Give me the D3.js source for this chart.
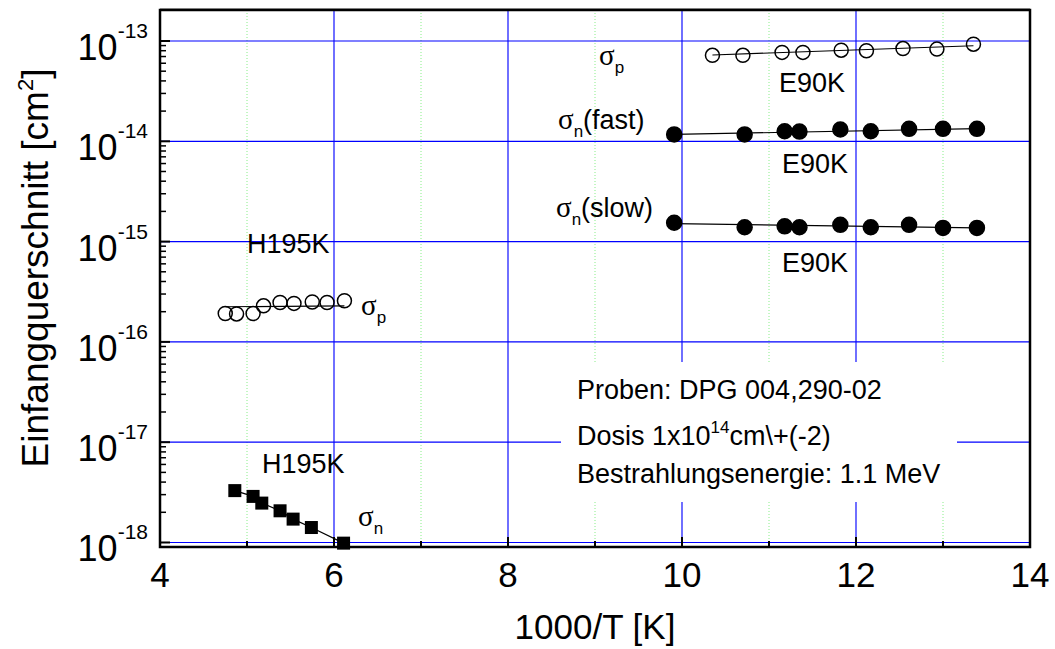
<!DOCTYPE html>
<html>
<head>
<meta charset="utf-8">
<script src="https://cdn.jsdelivr.net/npm/d3@7"></script>
<style>
  body { margin: 0; background: white; }
  text { font-family: "Liberation Sans", Arial, sans-serif; fill: black; }
  .sym { font-family: "Liberation Serif", "DejaVu Serif", serif; }
</style>
</head>
<body>
<svg id="chart" width="1055" height="649"></svg>
<script>
var svg = d3.select("#chart");
var plot = { left: 160, right: 1030, top: 10, bottom: 547 };

// E90K (open circles, sigma_p)
var e90_p_x = [10.35, 10.70, 11.15, 11.39, 11.83, 12.12, 12.54, 12.93, 13.35];
var e90_p_y = [7.2e-14, 7.2e-14, 7.7e-14, 7.7e-14, 8.1e-14, 8.0e-14, 8.4e-14, 8.3e-14, 9.3e-14];
// E90K filled circles, sigma_n fast / slow (same x)
var e90_n_x = [9.91, 10.72, 11.18, 11.35, 11.82, 12.17, 12.61, 13.00, 13.39];
var e90_fast_y = [1.17e-14, 1.17e-14, 1.26e-14, 1.25e-14, 1.31e-14, 1.26e-14, 1.33e-14, 1.33e-14, 1.33e-14];
var e90_slow_y = [1.54e-15, 1.39e-15, 1.42e-15, 1.39e-15, 1.47e-15, 1.39e-15, 1.47e-15, 1.37e-15, 1.37e-15];
// H195K open circles sigma_p
var h195_p_x = [4.75, 4.88, 5.07, 5.19, 5.38, 5.54, 5.75, 5.92, 6.12];
var h195_p_y = [1.92e-16, 1.90e-16, 1.92e-16, 2.29e-16, 2.47e-16, 2.42e-16, 2.50e-16, 2.47e-16, 2.57e-16];
// H195K filled squares sigma_n
var h195_n_x = [4.86, 5.07, 5.17, 5.38, 5.53, 5.74, 6.11];
var h195_n_y = [3.29e-18, 2.88e-18, 2.47e-18, 2.07e-18, 1.71e-18, 1.41e-18, 0.985e-18];

// fit lines (end points)
var fit_e90_p = [[10.35, 7.25e-14], [13.35, 8.97e-14]];
var fit_e90_fast = [[9.91, 1.17e-14], [13.39, 1.34e-14]];
var fit_e90_slow = [[9.91, 1.51e-15], [13.39, 1.37e-15]];
var fit_h195_p = [[4.75, 2.24e-16], [6.12, 2.29e-16]];

var x_ticks = [4, 6, 8, 10, 12, 14];
var x_minor = [5, 7, 9, 11, 13];
var y_exps = [-13, -14, -15, -16, -17, -18];

var x = d3.scaleLinear().domain([4, 14]).range([plot.left, plot.right]);
var y = d3.scaleLog().domain([Math.pow(10, -18.045), Math.pow(10, -12.691)]).range([plot.bottom, plot.top]);

// grid
svg.selectAll(".vgrid").data(x_ticks.filter(function(d) { return d > 4 && d < 14; }))
  .enter().append("line")
  .attr("x1", function(d) { return x(d); }).attr("x2", function(d) { return x(d); })
  .attr("y1", plot.top).attr("y2", plot.bottom)
  .style("stroke", "#1010ff").style("stroke-width", 1.2);
svg.selectAll(".vminor").data(x_minor)
  .enter().append("line")
  .attr("x1", function(d) { return x(d); }).attr("x2", function(d) { return x(d); })
  .attr("y1", plot.top).attr("y2", plot.bottom)
  .style("stroke", "#88ee88").style("stroke-width", 1).style("stroke-dasharray", "1,2");
svg.selectAll(".hgrid").data(y_exps)
  .enter().append("line")
  .attr("x1", plot.left).attr("x2", plot.right)
  .attr("y1", function(d) { return y(Math.pow(10, d)); })
  .attr("y2", function(d) { return y(Math.pow(10, d)); })
  .style("stroke", "#0000ff").style("stroke-width", 1.2);

// white box behind annotation
svg.append("rect").attr("x", 561).attr("y", 362).attr("width", 396).attr("height", 140).style("fill", "white");

// frame
svg.append("line").attr("x1", plot.left).attr("x2", plot.right).attr("y1", plot.top - 1.5).attr("y2", plot.top - 1.5)
  .style("stroke", "#aaa").style("stroke-width", 1);
svg.append("rect").attr("x", plot.left).attr("y", plot.top).attr("width", plot.right - plot.left).attr("height", plot.bottom - plot.top)
  .style("fill", "none").style("stroke", "black").style("stroke-width", 2.5);

// y ticks (inward)
var yMinor = [];
y_exps.forEach(function(e) {
  for (var k = 2; k <= 9; k++) {
    var v = k * Math.pow(10, e);
    if (y(v) > plot.top + 2) yMinor.push(v);
  }
});
svg.selectAll(".ymin").data(yMinor).enter().append("line")
  .attr("x1", plot.left).attr("x2", plot.left + 6)
  .attr("y1", function(d) { return y(d); }).attr("y2", function(d) { return y(d); })
  .style("stroke", "black").style("stroke-width", 1.5);
svg.selectAll(".ymaj").data(y_exps).enter().append("line")
  .attr("x1", plot.left).attr("x2", plot.left + 10)
  .attr("y1", function(d) { return y(Math.pow(10, d)); }).attr("y2", function(d) { return y(Math.pow(10, d)); })
  .style("stroke", "black").style("stroke-width", 2);

// x ticks (inward)
svg.selectAll(".xmaj").data(x_ticks).enter().append("line")
  .attr("x1", function(d) { return x(d); }).attr("x2", function(d) { return x(d); })
  .attr("y1", plot.bottom).attr("y2", plot.bottom - 10)
  .style("stroke", "black").style("stroke-width", 2);
svg.selectAll(".xmin").data(x_minor).enter().append("line")
  .attr("x1", function(d) { return x(d); }).attr("x2", function(d) { return x(d); })
  .attr("y1", plot.bottom).attr("y2", plot.bottom - 6)
  .style("stroke", "black").style("stroke-width", 2);

// tick labels
svg.selectAll(".xlab").data(x_ticks).enter().append("text")
  .attr("x", function(d) { return x(d); }).attr("y", 587)
  .attr("text-anchor", "middle").style("font-size", "35px")
  .text(function(d) { return d; });
var ylab = svg.selectAll(".ylab").data(y_exps).enter().append("text")
  .attr("x", 148).attr("y", function(d) { return y(Math.pow(10, d)) + 19; })
  .attr("text-anchor", "end");
ylab.append("tspan").style("font-size", "36px").text("10");
ylab.append("tspan").attr("dy", -22).style("font-size", "21px").text(function(d) { return d; });

// axis titles
svg.append("text").attr("x", (plot.left + plot.right) / 2).attr("y", 639)
  .attr("text-anchor", "middle").style("font-size", "35px").text("1000/T [K]");
var yt = svg.append("text").attr("transform", "translate(48,268) rotate(-90)")
  .attr("text-anchor", "middle").style("font-size", "37px");
yt.append("tspan").text("Einfangquerschnitt [cm");
yt.append("tspan").attr("dy", -15).style("font-size", "22px").text("2");
yt.append("tspan").attr("dy", 15).text("]");

// fit lines
var line = d3.line().x(function(d) { return x(d[0]); }).y(function(d) { return y(d[1]); });
[fit_e90_p, fit_e90_fast, fit_e90_slow, fit_h195_p].forEach(function(f) {
  svg.append("path").attr("d", line(f)).style("fill", "none").style("stroke", "black").style("stroke-width", 1.2);
});
svg.append("path").attr("d", line(d3.zip(h195_n_x, h195_n_y)))
  .style("fill", "none").style("stroke", "black").style("stroke-width", 1.2);

// markers
function circles(xs, ys, filled) {
  svg.append("g").selectAll("circle").data(d3.zip(xs, ys)).enter().append("circle")
    .attr("cx", function(d) { return x(d[0]); }).attr("cy", function(d) { return y(d[1]); })
    .attr("r", filled ? 7.5 : 7)
    .style("fill", filled ? "black" : "white").style("fill-opacity", filled ? 1 : 0)
    .style("stroke", "black").style("stroke-width", 1.5);
}
circles(e90_p_x, e90_p_y, false);
circles(e90_n_x, e90_fast_y, true);
circles(e90_n_x, e90_slow_y, true);
circles(h195_p_x, h195_p_y, false);
svg.append("g").selectAll("rect").data(d3.zip(h195_n_x, h195_n_y)).enter().append("rect")
  .attr("x", function(d) { return x(d[0]) - 6.5; }).attr("y", function(d) { return y(d[1]) - 6.5; })
  .attr("width", 13).attr("height", 13).style("fill", "black");

// labels
function sigma(px, py, sub, rest) {
  var t = svg.append("text").attr("x", px).attr("y", py);
  t.append("tspan").attr("class", "sym").style("font-size", "29px").text("σ");
  t.append("tspan").attr("dy", 8).style("font-size", "17px").text(sub);
  if (rest) t.append("tspan").attr("dy", -8).style("font-size", "27px").text(rest);
}
sigma(599, 65, "p");
sigma(558, 129, "n", "(fast)");
sigma(556, 217, "n", "(slow)");
sigma(361, 315, "p");
sigma(358, 526, "n");

function label(px, py, s) {
  svg.append("text").attr("x", px).attr("y", py).style("font-size", "27px").text(s);
}
label(779, 92, "E90K");
label(782, 173, "E90K");
label(782, 272, "E90K");
label(247, 253, "H195K");
label(262, 473, "H195K");

label(577, 399, "Proben: DPG 004,290-02");
var dos = svg.append("text").attr("x", 577).attr("y", 445).style("font-size", "27px");
dos.append("tspan").text("Dosis 1x10");
dos.append("tspan").attr("dy", -12).style("font-size", "17px").text("14");
dos.append("tspan").attr("dy", 12).text("cm\\+(-2)");
label(577, 483, "Bestrahlungsenergie: 1.1 MeV");
</script>
</body>
</html>
